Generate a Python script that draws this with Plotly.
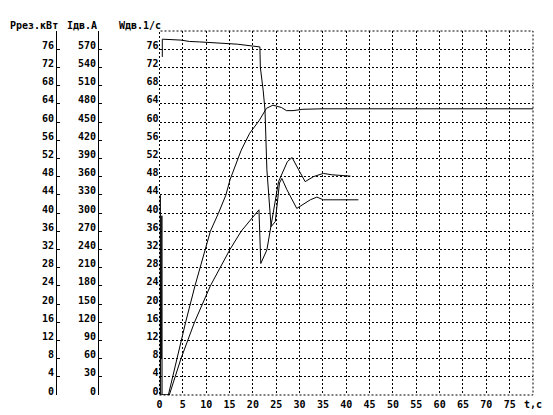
import plotly.graph_objects as go

# ---- data ----
t_I = [0.6, 0.6, 0.7, 4.6, 6.4, 8.6, 16.7, 21.5, 21.6, 22.2, 22.6, 23.0, 23.7, 23.9,
       24.8, 25.7, 26.2, 27.3, 29.4, 32.3, 33.7, 35.1, 42.6]
v_I = [74.3, 78.2, 78.2, 78.0, 77.7, 77.6, 77.1, 76.5, 72.0, 67.0, 62.6, 49.5, 40.0, 37.0,
       38.1, 46.6, 47.6, 45.1, 41.0, 42.9, 43.5, 42.9, 42.9]

t_P = [0.1, 0.15, 0.25, 2.1, 4.6, 7.5, 10.9, 15.1, 17.5, 21.3, 21.7, 23.0, 23.7, 25.5,
       27.4, 28.4, 29.8, 31.2, 33.0, 35.1, 36.9, 40.9]
v_P = [0.0, 43.9, 0.0, 0.0, 8.0, 16.0, 24.0, 32.0, 36.0, 40.7, 28.9, 31.9, 35.9, 46.9,
       51.3, 52.2, 49.5, 46.9, 48.0, 48.7, 48.4, 48.1]

t_W = [0.45, 0.5, 0.55, 1.9, 3.7, 5.6, 7.6, 9.8, 10.9, 12.6, 14.2, 15.1, 17.5, 19.3,
       21.4, 22.9, 24.3, 26.1, 27.2, 28.6, 30.7, 35.0, 50.0, 80.0]
v_W = [8.0, 39.4, 0.0, 0.0, 8.0, 16.0, 24.0, 32.0, 36.0, 39.9, 43.9, 47.3, 53.8, 57.5,
       60.4, 63.0, 63.7, 63.2, 62.5, 62.5, 62.8, 62.9, 62.9, 62.9]

x_ticks = list(range(0, 85, 5))
x_ticktext = [str(v) for v in range(0, 80, 5)] + ["t,с"]
w_ticks = list(range(0, 81, 4))
w_ticktext = [str(v) for v in range(0, 80, 4)] + [""]
i_ticks = list(range(0, 601, 30))
i_ticktext = [str(v) for v in range(0, 600, 30)] + [""]
p_ticks = list(range(0, 81, 4))
p_ticktext = [str(v) for v in range(0, 80, 4)] + [""]

titles = ["Pрез.кВт", "Iдв.А", "Wдв.1/с"]

FONT = "DejaVu Sans Mono"
OFF = 8  # default page body margin
W, H = 553 - OFF, 415 - OFF
ML, MR, MT, MB = 0, 20, 31 - OFF, 20
PW = W - ML - MR
PH = H - MT - MB

fig = go.Figure()
for tx, vy in [(t_I, v_I), (t_P, v_P), (t_W, v_W)]:
    fig.add_trace(go.Scatter(x=tx, y=vy, mode="lines",
                             line=dict(color="black", width=1), showlegend=False))

fig.add_trace(go.Scatter(x=[None], y=[None], yaxis="y2", showlegend=False))
fig.add_trace(go.Scatter(x=[None], y=[None], yaxis="y3", showlegend=False))

tickfont = dict(family=FONT, size=10, color="black", weight="bold")
GD = "2px,2px"
SHIFT = -4
fig.update_layout(
    width=W, height=H,
    margin=dict(l=ML, r=MR, t=MT, b=MB, autoexpand=False),
    paper_bgcolor="white", plot_bgcolor="white",
    font=dict(family=FONT, size=10, color="black"),
    xaxis=dict(domain=[(159.5 - OFF) / PW, 1], range=[0, 80], tickvals=x_ticks,
               ticktext=x_ticktext, showgrid=True, gridcolor="black", griddash=GD,
               gridwidth=1, zeroline=False, showline=False, ticks="", tickfont=tickfont,
               ticklabelstandoff=2, automargin=False),
    yaxis=dict(range=[0, 80], tickvals=w_ticks, ticktext=w_ticktext,
               showgrid=True, gridcolor="black", griddash=GD, gridwidth=1,
               zeroline=False, showline=False, ticks="", tickfont=tickfont,
               ticklabelshift=SHIFT, automargin=False),
    yaxis2=dict(range=[0, 600], tickvals=i_ticks, ticktext=i_ticktext, overlaying="y",
                anchor="free", position=(98 - OFF) / PW, side="left", showgrid=False,
                zeroline=False, showline=True, linecolor="black", linewidth=1,
                ticks="inside", ticklen=3, tickcolor="black", tickfont=tickfont,
                ticklabelshift=SHIFT, automargin=False),
    yaxis3=dict(range=[0, 80], tickvals=p_ticks, ticktext=p_ticktext, overlaying="y",
                anchor="free", position=(56 - OFF) / PW, side="left", showgrid=False,
                zeroline=False, showline=True, linecolor="black", linewidth=1,
                ticks="inside", ticklen=3, tickcolor="black", tickfont=tickfont,
                ticklabelshift=SHIFT, automargin=False),
    shapes=[dict(type="rect", xref="x domain", yref="y domain", x0=0, x1=1, y0=0, y1=1,
                 line=dict(color="black", width=1, dash=GD))],
)

title_x = [0, 65 - OFF, 117 - OFF]
for txt, px in zip(titles, title_x):
    fig.add_annotation(text=txt, xref="paper", yref="paper", x=px / PW,
                       y=(PH + MT - (25 - OFF)) / PH,
                       xanchor="left", yanchor="middle", showarrow=False,
                       font=dict(family=FONT, size=10, color="black", weight="bold"))

fig.write_html("out.html")
